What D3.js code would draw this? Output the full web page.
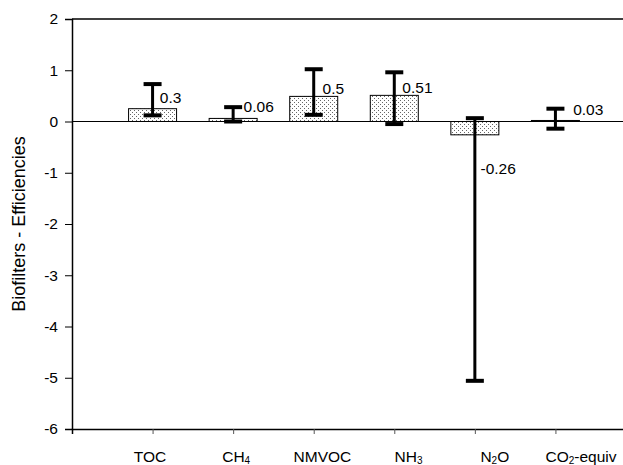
<!DOCTYPE html>
<html><head><meta charset="utf-8">
<script src="https://cdn.jsdelivr.net/npm/d3@7"></script>
<style>body{margin:0;background:#fff;} svg{display:block;font-family:"Liberation Sans",Arial,sans-serif;}</style>
</head><body><div id="chart"></div>
<script>
// categories: [main text, subscript, suffix]
const categories = [["TOC","",""],["CH","4",""],["NMVOC","",""],["NH","3",""],["N","2","O"],["CO","2","-equiv"]];
const barValues = [0.25, 0.06, 0.49, 0.51, -0.26, 0.02];
const errLow = [0.12, 0.0, 0.13, -0.05, -5.06, -0.14];
const errHigh = [0.73, 0.28, 1.02, 0.96, 0.065, 0.25];
const valueLabels = ["0.3","0.06","0.5","0.51","-0.26","0.03"];
const labelY = [0.47, 0.30, 0.64, 0.67, -0.92, 0.23];
const labelDx = [0.09, 0.13, 0.11, 0.10, 0.07, 0.22];
const yTicks = [-6,-5,-4,-3,-2,-1,0,1,2];

const W = 623, H = 465;
const svg = d3.select("#chart").append("svg").attr("width", W).attr("height", H);

const x = d3.scaleLinear().domain([0, 7]).range([72, 636]);
const y = d3.scaleLinear().domain([-6, 2]).range([429, 19]);
const idx = d3.range(categories.length);
// category label positions (spaced independently of the tick marks in the original)
const xLab = d3.scalePoint().domain(idx).range([150, 581]);

const defs = svg.append("defs");
const pat = defs.append("pattern").attr("id","dots").attr("patternUnits","userSpaceOnUse")
  .attr("width",4).attr("height",4);
pat.append("rect").attr("width",4).attr("height",4).attr("fill","#fff");
pat.append("rect").attr("x",0).attr("y",0).attr("width",1).attr("height",1).attr("fill","#666");
pat.append("rect").attr("x",2).attr("y",2).attr("width",1).attr("height",1).attr("fill","#666");

// frame top
svg.append("line").attr("x1", x(0)).attr("x2", x(7)).attr("y1", y(2)).attr("y2", y(2))
  .attr("stroke","#000").attr("stroke-width",1.5);

// y axis
const yAxis = svg.append("g").attr("transform",`translate(${x(0)},0)`)
  .call(d3.axisLeft(y).tickValues(yTicks).tickSize(7).tickPadding(7).tickFormat(d => String(d)));
yAxis.select(".domain").attr("stroke-width",1.5);
yAxis.selectAll("text").attr("font-size",15.5).attr("fill","#000").attr("font-family","Liberation Sans, Arial, sans-serif");

// x axis
const xAxis = svg.append("g").attr("transform",`translate(0,${y(-6)})`)
  .call(d3.axisBottom(x).tickValues(idx.map(i=>i+1)).tickSize(5).tickFormat(""));
xAxis.select(".domain").attr("stroke-width",1.5);
xAxis.selectAll(".tick line").attr("stroke","#555");

const xl = svg.append("g").selectAll("text").data(idx).join("text")
  .attr("x", i => xLab(i)).attr("y", 462).attr("text-anchor","middle")
  .attr("font-size",15.5).attr("fill","#000");
xl.append("tspan").text(i => categories[i][0]);
xl.append("tspan").attr("font-size",10).attr("dy",2).text(i => categories[i][1]);
xl.append("tspan").attr("dy",-2).text(i => categories[i][2]);

// zero line
svg.append("line").attr("x1", x(0)).attr("x2", x(7)).attr("y1", y(0)).attr("y2", y(0))
  .attr("stroke","#000").attr("stroke-width",1);

// bars
const bw = 48;
svg.append("g").selectAll("rect").data(idx).join("rect")
  .attr("x", i => x(i+1) - bw/2).attr("width", bw)
  .attr("y", i => y(Math.max(0, barValues[i])))
  .attr("height", i => Math.abs(y(barValues[i]) - y(0)))
  .attr("fill","url(#dots)").attr("stroke","#000").attr("stroke-width",1);

// error bars
const eg = svg.append("g").attr("stroke","#000");
eg.selectAll("line.v").data(idx).join("line").attr("class","v")
  .attr("x1", i => x(i+1)).attr("x2", i => x(i+1))
  .attr("y1", i => y(errLow[i])).attr("y2", i => y(errHigh[i])).attr("stroke-width",3);
["lo","hi"].forEach(k => {
  eg.selectAll("line."+k).data(idx).join("line").attr("class",k)
    .attr("x1", i => x(i+1) - 9).attr("x2", i => x(i+1) + 9)
    .attr("y1", i => y(k==="lo"?errLow[i]:errHigh[i])).attr("y2", i => y(k==="lo"?errLow[i]:errHigh[i]))
    .attr("stroke-width",4);
});

// value labels
svg.append("g").selectAll("text").data(idx).join("text")
  .attr("x", i => x(i+1+labelDx[i])).attr("y", i => y(labelY[i])).attr("dy","0.35em")
  .attr("font-size",15.5).attr("fill","#000").text(i => valueLabels[i]);

// y title
svg.append("text").attr("transform",`translate(25,${y(-2)}) rotate(-90)`)
  .attr("text-anchor","middle").attr("font-size",18).attr("fill","#000")
  .text("Biofilters - Efficiencies");
</script></body></html>
